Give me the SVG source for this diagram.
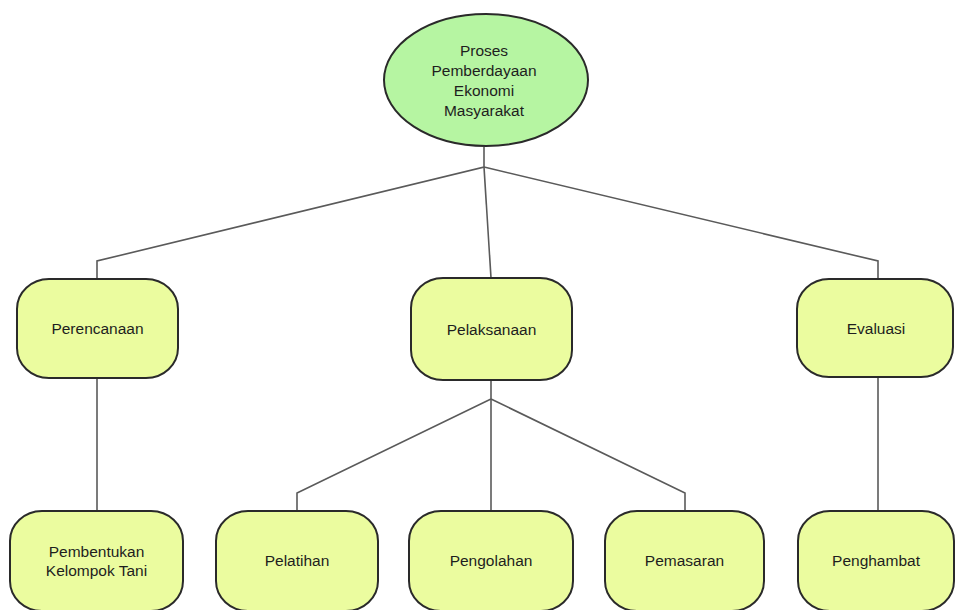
<svg xmlns="http://www.w3.org/2000/svg" width="955" height="610" viewBox="0 0 955 610">
<style>
.bx{fill:#ebfc9f;stroke:#2a2a2a;stroke-width:2}
.el{fill:#b6f5a2;stroke:#2a2a2a;stroke-width:2}
.cn{fill:none;stroke:#5a5a5a;stroke-width:1.6}
text{font-family:"Liberation Sans",Arial,sans-serif;font-size:15.5px;fill:#1e1e1e;text-anchor:middle}
</style>
<rect width="955" height="610" fill="#ffffff"/>
<g id="connectors">
<path class="cn" d="M484 147 V167 L97 261 V279"/>
<path class="cn" d="M484 167 L491 278"/>
<path class="cn" d="M484 167 L878 261 V279"/>
<path class="cn" d="M97 378 V511"/>
<path class="cn" d="M491 380 V399 L297 493 V511"/>
<path class="cn" d="M491 399 V511"/>
<path class="cn" d="M491 399 L685 493 V511"/>
<path class="cn" d="M878 377 V511"/>
</g>
<g id="root">
<ellipse class="el" cx="486" cy="80" rx="102" ry="66"/>
<text x="484" y="56">Proses</text>
<text x="484" y="76">Pemberdayaan</text>
<text x="484" y="96">Ekonomi</text>
<text x="484" y="116">Masyarakat</text>
</g>
<g id="perencanaan">
<rect class="bx" x="17" y="279" width="161" height="99" rx="32" ry="30"/>
<text x="97.5" y="334">Perencanaan</text>
</g>
<g id="pelaksanaan">
<rect class="bx" x="411" y="278" width="161" height="102" rx="32" ry="30"/>
<text x="491.5" y="335">Pelaksanaan</text>
</g>
<g id="evaluasi">
<rect class="bx" x="797" y="279" width="156" height="98" rx="32" ry="30"/>
<text x="876" y="334">Evaluasi</text>
</g>
<g id="pembentukan">
<rect class="bx" x="10" y="511" width="173" height="100" rx="32" ry="30"/>
<text x="96.5" y="557">Pembentukan</text>
<text x="96.5" y="576">Kelompok Tani</text>
</g>
<g id="pelatihan">
<rect class="bx" x="216" y="511" width="162" height="100" rx="32" ry="30"/>
<text x="297" y="566">Pelatihan</text>
</g>
<g id="pengolahan">
<rect class="bx" x="409" y="511" width="164" height="100" rx="32" ry="30"/>
<text x="491" y="566">Pengolahan</text>
</g>
<g id="pemasaran">
<rect class="bx" x="605" y="511" width="159" height="100" rx="32" ry="30"/>
<text x="684.5" y="566">Pemasaran</text>
</g>
<g id="penghambat">
<rect class="bx" x="798" y="511" width="156" height="100" rx="32" ry="30"/>
<text x="876" y="566">Penghambat</text>
</g>
</svg>
